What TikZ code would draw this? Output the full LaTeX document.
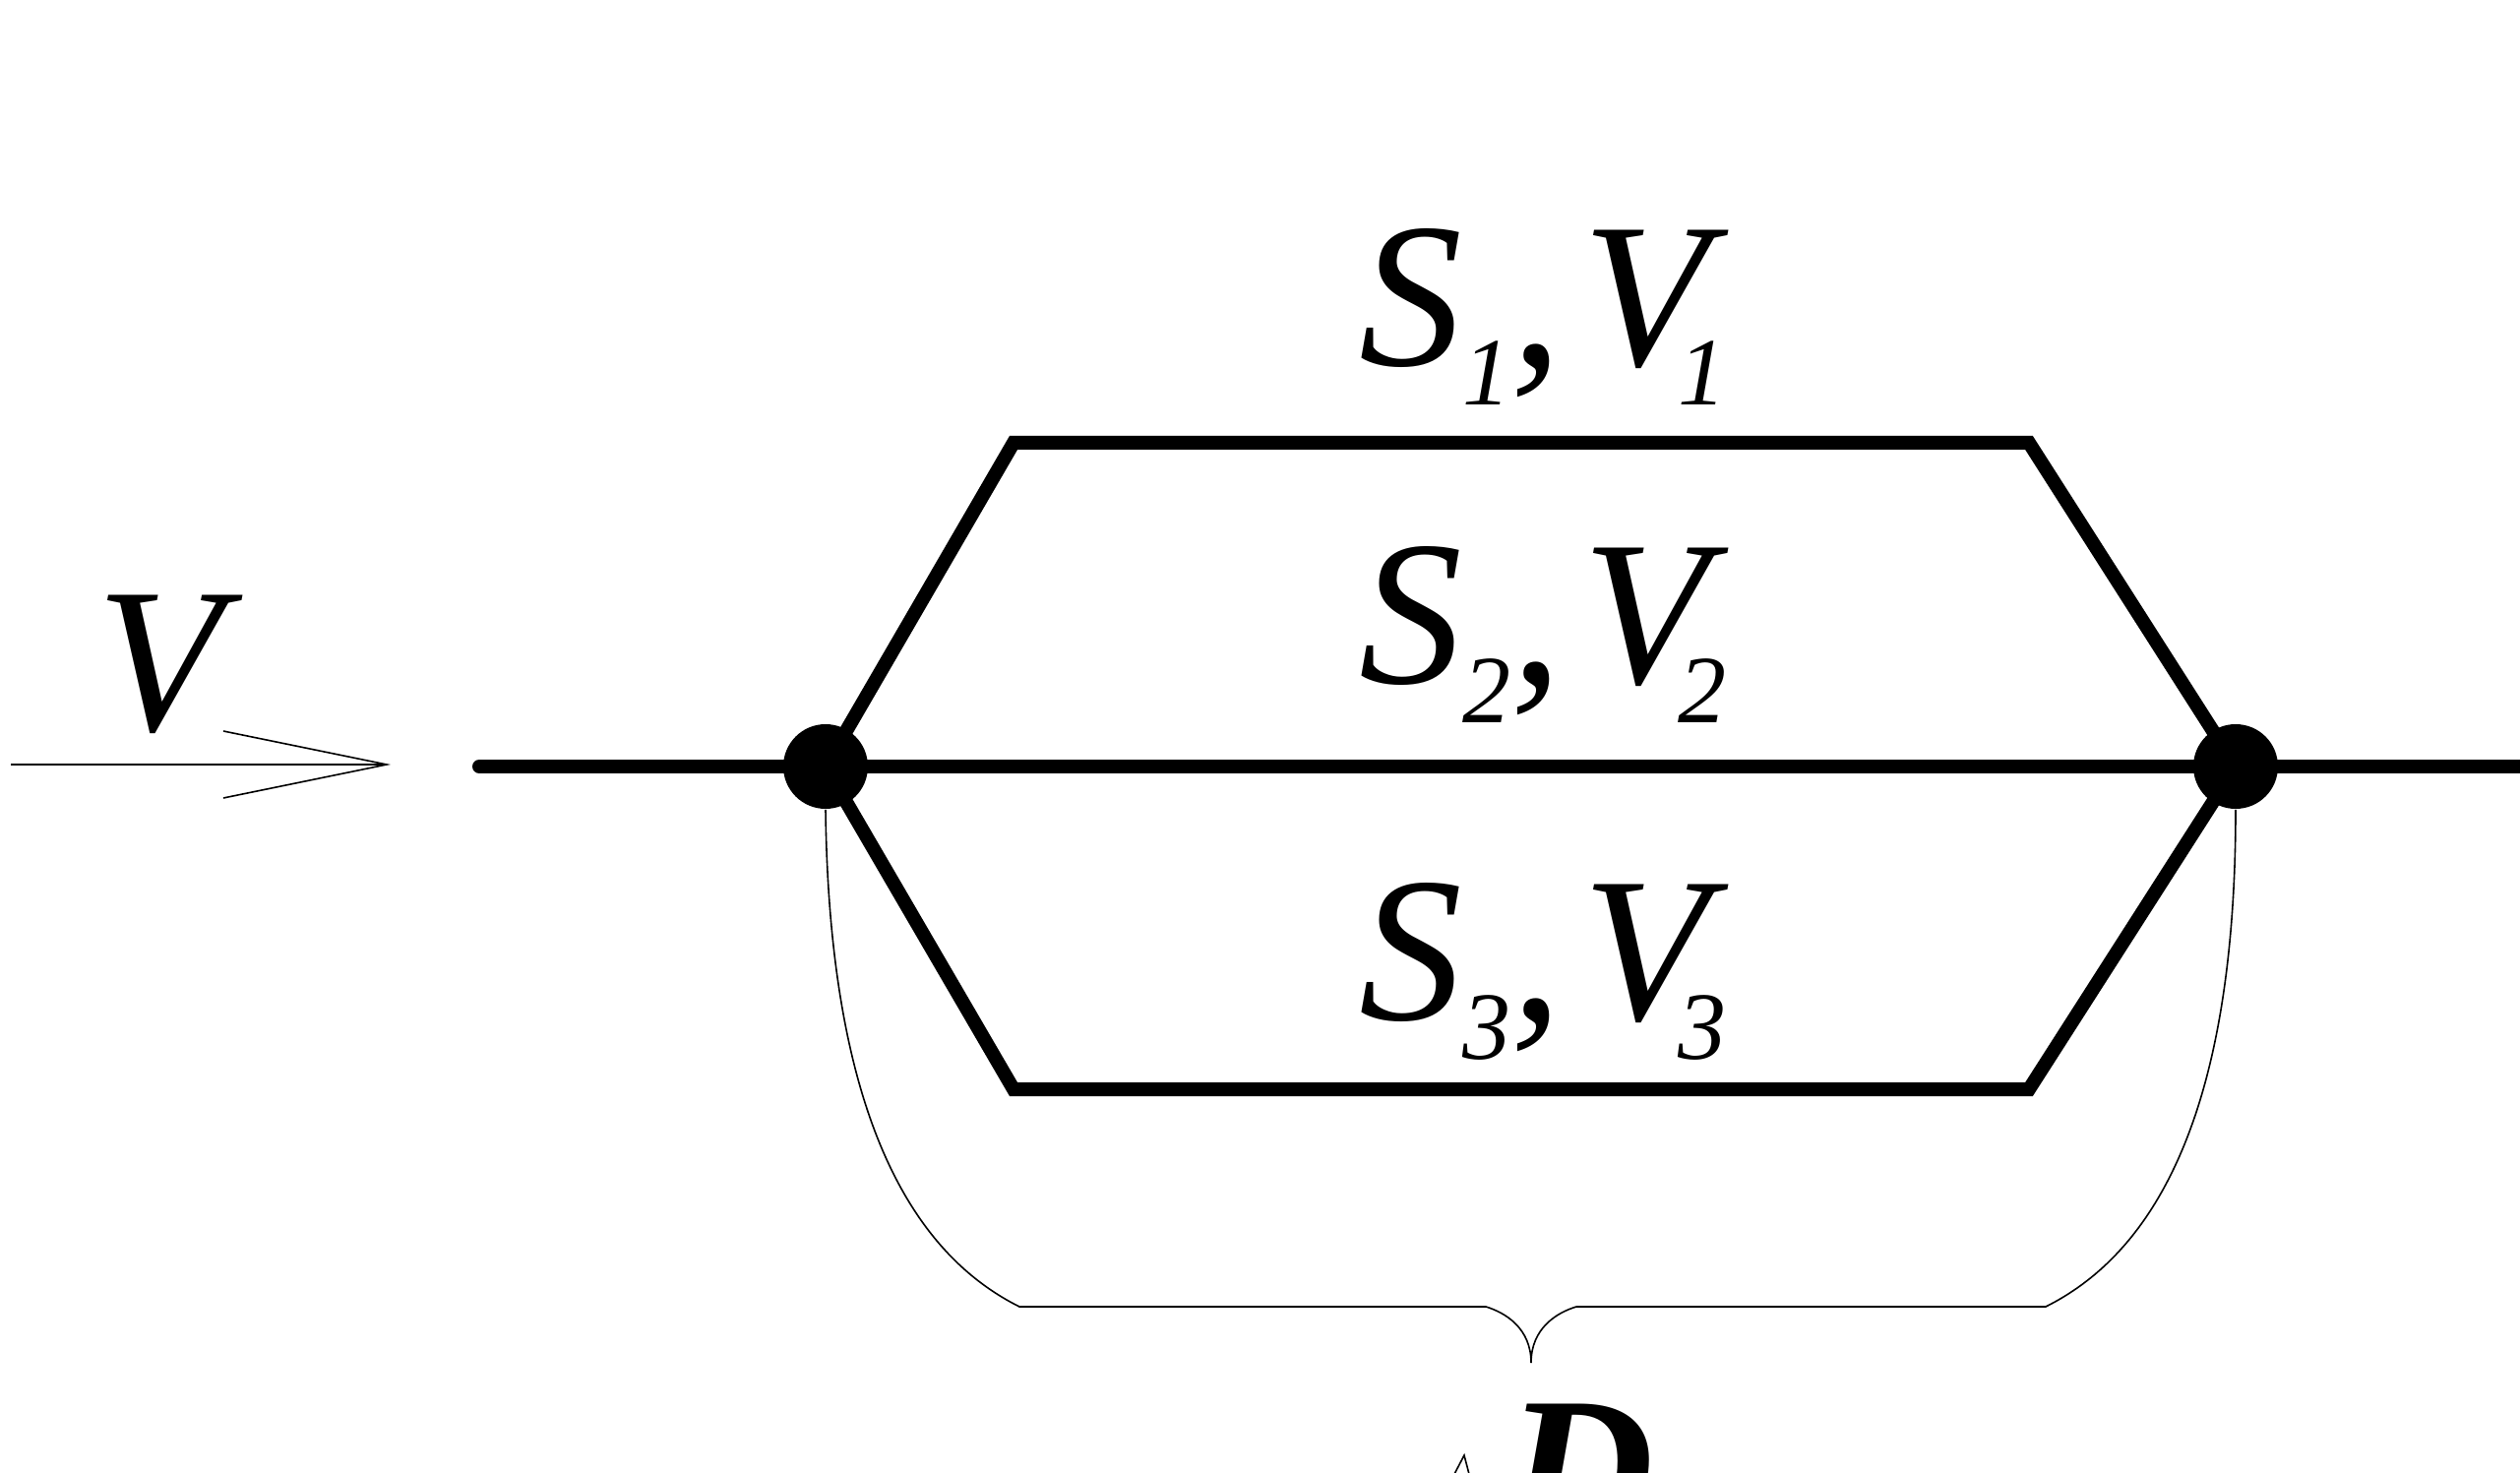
\documentclass[tikz,border=0pt]{standalone}
\usepackage{fontspec}
\setmainfont{Liberation Serif}[
  ItalicFont={Liberation Serif Italic},
  BoldFont={Liberation Serif Bold},
  BoldItalicFont={Liberation Serif Bold Italic}]
\usetikzlibrary{arrows.meta}
\newcommand{\lowsub}[1]{\raisebox{-10pt}{\fontsize{24.5pt}{24.5pt}\selectfont #1}}

\begin{document}
\begin{tikzpicture}[x=0.25pt,y=-0.25pt,
  pipe/.style={line width=3.5pt,line cap=round},
  thinline/.style={line width=0.4pt},
  joint/.style={circle,fill=black,inner sep=0pt,minimum size=21.5pt},
  flowlabel/.style={font=\fontsize{52.5pt}{52.5pt}\selectfont\itshape,inner sep=0pt,anchor=base}]
  \useasboundingbox (0,0) rectangle (2561,1497);
  \clip (0,0) rectangle (2561,1497);

  % Joints of the branches
  \node[joint] (inL) at (839,779) {};
  \node[joint] (outR) at (2272,779) {};
  \coordinate (pipeStart) at (487,779);
  \coordinate (pipeEnd) at (2575,779);

  % Corners of the upper and lower branch
  \coordinate (upL) at (1030,450);
  \coordinate (upR) at (2062,450);
  \coordinate (loL) at (1030,1107);
  \coordinate (loR) at (2062,1107);

  % Branches
  \draw[pipe] (pipeStart) -- (inL.center) -- (outR.center) -- (pipeEnd);
  \draw[pipe,line join=miter] (inL.center) -- (upL) -- (upR) -- (outR.center);
  \draw[pipe,line join=miter] (inL.center) -- (loL) -- (loR) -- (outR.center);

  % Incoming flow
  \coordinate (flowTail) at (11,777);
  \coordinate (flowTip) at (397,777);
  \draw[thinline,-{Straight Barb[length=41.5pt,width=17pt]}] (flowTail) -- (flowTip);
  \node[flowlabel] (flowV) at (163,743) {V};

  % Branch labels
  \node[flowlabel] (lab1) at (1568,372) {S\lowsub{1}, \kern-8pt V\kern-8pt\lowsub{1}};
  \node[flowlabel] (lab2) at (1568,695) {S\lowsub{2}, \kern-8pt V\kern-8pt\lowsub{2}};
  \node[flowlabel] (lab3) at (1568,1036) {S\lowsub{3}, \kern-8pt V\kern-8pt\lowsub{3}};

  % Brace
  \coordinate (braceTip) at (1556,1385);
  \draw[thinline] (inL.south) .. controls (843,1150) and (936,1278) .. (1036,1328)
    -- (1510,1328) .. controls (1530,1334) and (1556,1350) .. (braceTip);
  \draw[thinline] (outR.south) .. controls (2272,1150) and (2179,1278) .. (2079,1328)
    -- (1602,1328) .. controls (1582,1334) and (1556,1350) .. (braceTip);
  \node[flowlabel,font=\fontsize{52.5pt}{52.5pt}\selectfont\bfseries\itshape] (labD) at (1605,1564) {D};
  \draw[thinline] (1476,1502) -- (1488,1479) -- (1494,1502);
\end{tikzpicture}
\end{document}
